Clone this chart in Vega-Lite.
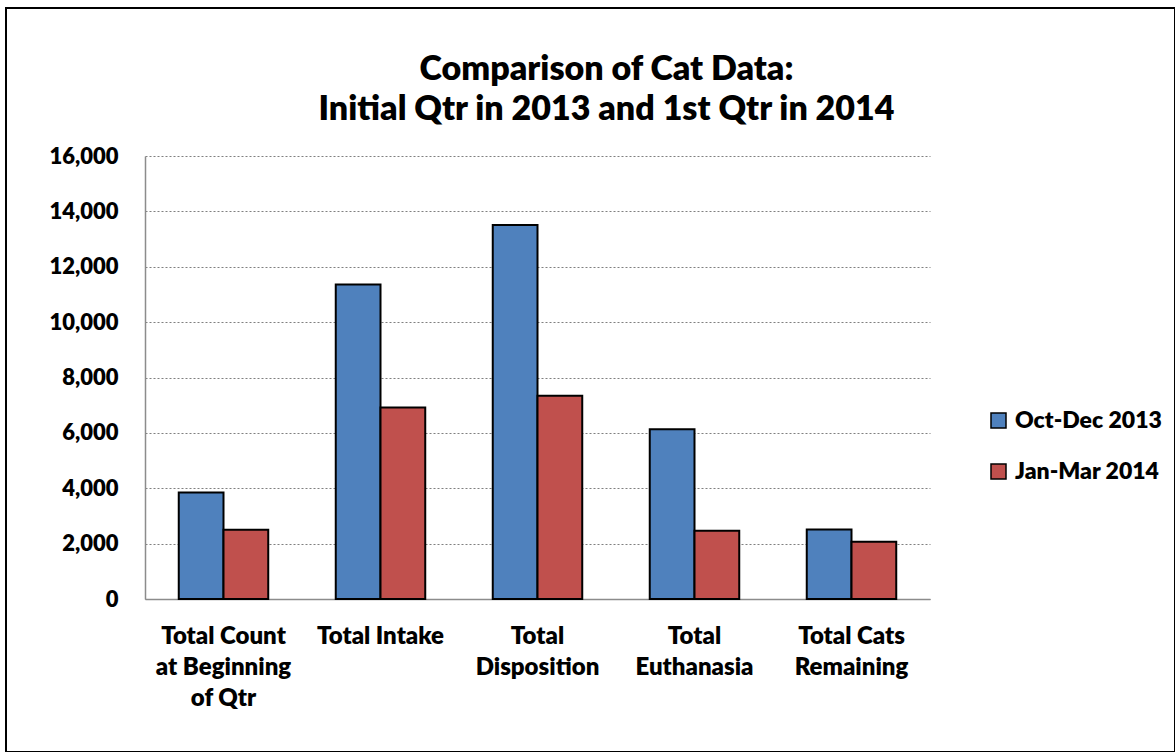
{
  "$schema": "https://vega.github.io/schema/vega-lite/v6.json",
  "width": 1169,
  "height": 744,
  "autosize": {"type": "none"},
  "padding": {"left": 6, "top": 8, "right": 0, "bottom": 0},
  "background": "white",
  "title": {
    "text": ["Comparison of Cat Data:", "Initial Qtr in 2013 and 1st Qtr in 2014"],
    "font": "Lato",
    "fontSize": 34,
    "fontWeight": 800,
    "color": "black",
    "anchor": "middle",
    "frame": "group",
    "baseline": "alphabetic",
    "offset": -146,
    "lineHeight": 40,
    "dx": 16
  },
  "data": {
    "values": [
      {"category": "Total Count\nat Beginning\nof Qtr", "period": "Oct-Dec 2013", "count": 3850},
      {"category": "Total Count\nat Beginning\nof Qtr", "period": "Jan-Mar 2014", "count": 2500},
      {"category": "Total Intake", "period": "Oct-Dec 2013", "count": 11360},
      {"category": "Total Intake", "period": "Jan-Mar 2014", "count": 6920},
      {"category": "Total\nDisposition", "period": "Oct-Dec 2013", "count": 13510},
      {"category": "Total\nDisposition", "period": "Jan-Mar 2014", "count": 7345},
      {"category": "Total\nEuthanasia", "period": "Oct-Dec 2013", "count": 6130},
      {"category": "Total\nEuthanasia", "period": "Jan-Mar 2014", "count": 2465},
      {"category": "Total Cats\nRemaining", "period": "Oct-Dec 2013", "count": 2510},
      {"category": "Total Cats\nRemaining", "period": "Jan-Mar 2014", "count": 2070}
    ]
  },
  "mark": {"type": "bar", "stroke": "black", "strokeWidth": 2},
  "encoding": {
    "x": {
      "field": "category",
      "type": "nominal",
      "sort": null,
      "scale": {"range": [139, 924], "paddingInner": 0.43, "paddingOuter": 0.215},
      "axis": {
        "title": null,
        "labelAngle": 0,
        "labelExpr": "split(datum.label, '\\n')",
        "labelFont": "Lato",
        "labelFontSize": 24,
        "labelFontWeight": 800,
        "labelColor": "black",
        "labelLineHeight": 31,
        "labelBaseline": "top",
        "labelPadding": 25,
        "labelLimit": 0,
        "ticks": false,
        "domainColor": "#8c8c8c",
        "domainWidth": 1.5,
        "offset": -153,
        "grid": false
      }
    },
    "xOffset": {
      "field": "period",
      "sort": ["Oct-Dec 2013", "Jan-Mar 2014"],
      "scale": {"paddingInner": 0, "paddingOuter": 0}
    },
    "y": {
      "field": "count",
      "type": "quantitative",
      "scale": {"domain": [0, 16000], "range": [591, 148], "nice": false},
      "axis": {
        "title": null,
        "values": [0, 2000, 4000, 6000, 8000, 10000, 12000, 14000, 16000],
        "format": ",d",
        "labelFont": "Lato",
        "labelFontSize": 22,
        "labelFontWeight": 800,
        "labelColor": "black",
        "labelPadding": 27,
        "ticks": false,
        "domainColor": "#8c8c8c",
        "domainWidth": 1.5,
        "grid": true,
        "gridColor": "#808080",
        "gridDash": [2, 2],
        "gridWidth": 1.2,
        "offset": -139
      }
    },
    "color": {
      "field": "period",
      "type": "nominal",
      "sort": ["Oct-Dec 2013", "Jan-Mar 2014"],
      "scale": {"domain": ["Oct-Dec 2013", "Jan-Mar 2014"], "range": ["#4F81BD", "#C0504D"]},
      "legend": {
        "orient": "none",
        "legendX": 981,
        "legendY": 401,
        "title": null,
        "symbolType": "square",
        "symbolSize": 225,
        "symbolStrokeColor": "black",
        "symbolStrokeWidth": 1.5,
        "symbolOpacity": 1,
        "labelFont": "Lato",
        "labelFontSize": 23,
        "labelFontWeight": 800,
        "labelColor": "black",
        "labelOffset": 5,
        "rowPadding": 27,
        "padding": 0,
        "symbolOffset": 0
      }
    }
  },
  "config": {
    "view": {"stroke": "black", "strokeWidth": 2, "fill": "white"},
    "font": "Lato"
  }
}
